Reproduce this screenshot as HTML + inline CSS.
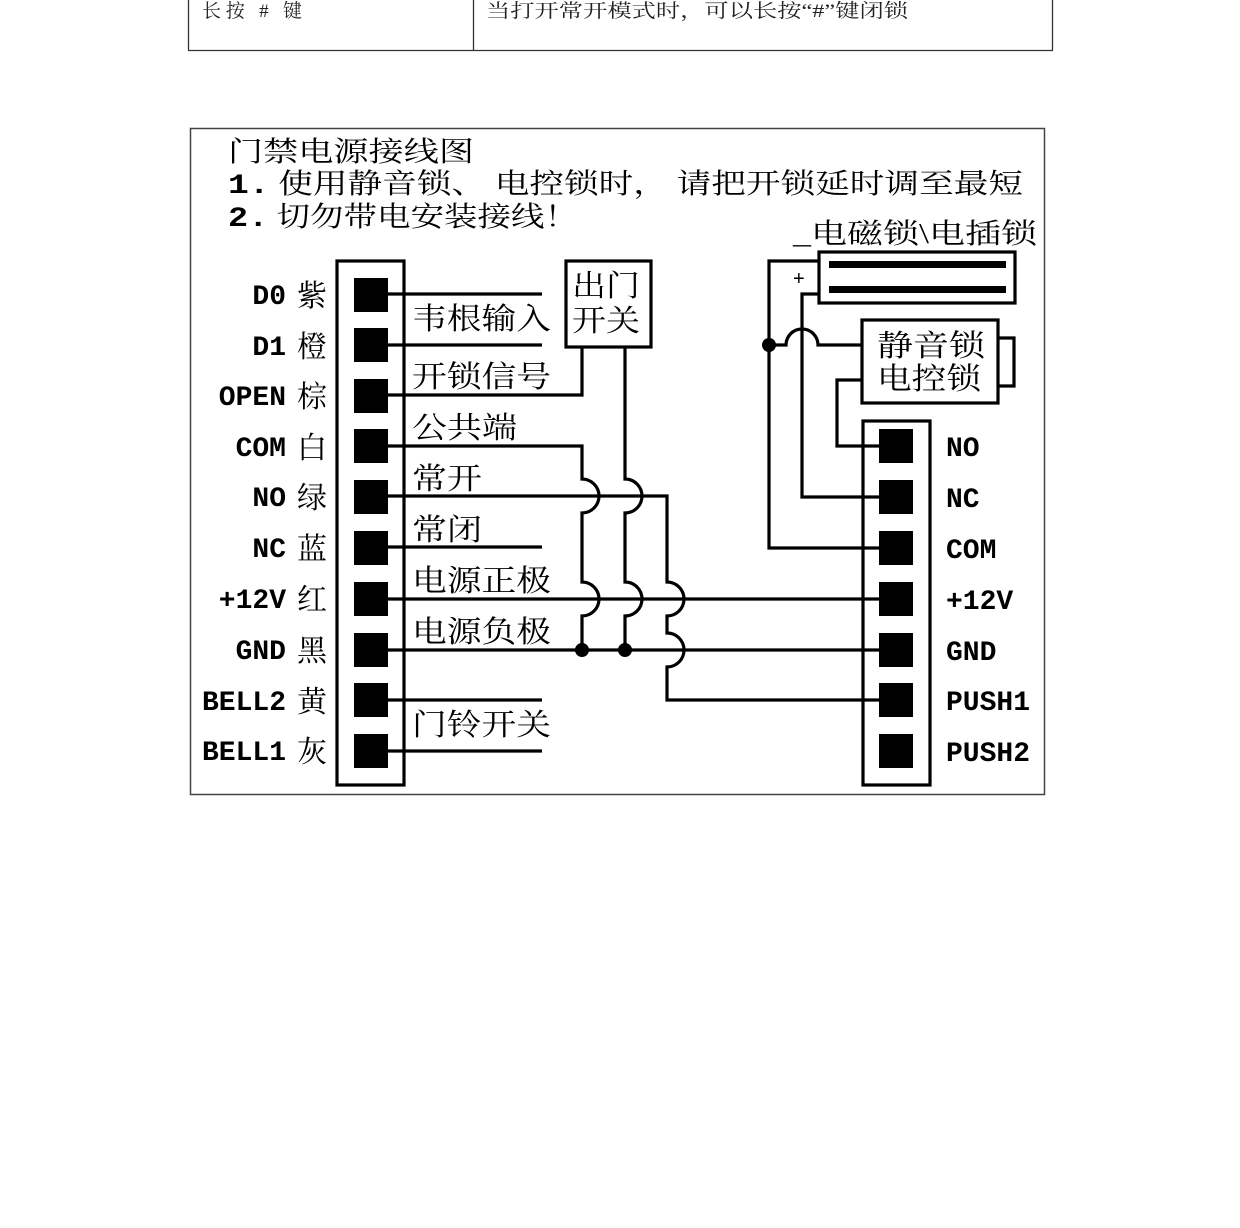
<!DOCTYPE html>
<html><head><meta charset="utf-8"><style>
html,body{margin:0;padding:0;background:#fff;}
svg{display:block;}
.cjk{font-family:"Liberation Serif","Noto Serif CJK SC","Noto Sans CJK SC",serif;}
.mono{font-family:"Liberation Mono",monospace;font-weight:bold;}
</style></head><body>
<svg width="1240" height="1228" viewBox="0 0 1240 1228" xmlns="http://www.w3.org/2000/svg">
<g stroke="#333" stroke-width="1.3" fill="none">
<line x1="188.5" y1="0" x2="188.5" y2="50"/>
<line x1="473.5" y1="0" x2="473.5" y2="50"/>
<line x1="1052.5" y1="0" x2="1052.5" y2="50"/>
<line x1="188" y1="50.5" x2="1053" y2="50.5"/>
</g>
<text x="202" y="17" font-size="19" class="cjk" fill="#222" textLength="100" lengthAdjust="spacing">长按 # 键</text>
<text x="486" y="17" font-size="19" class="cjk" fill="#222" textLength="422" lengthAdjust="spacingAndGlyphs">当打开常开模式时，可以长按“#”键闭锁</text>

<rect x="190.5" y="128.5" width="854" height="666" fill="none" stroke="#444" stroke-width="1.5"/>

<text x="228" y="161" font-size="28" class="cjk" textLength="246" lengthAdjust="spacingAndGlyphs">门禁电源接线图</text>
<text x="228" y="193" font-size="28" class="cjk" textLength="795" lengthAdjust="spacingAndGlyphs"><tspan class="mono">1.</tspan> 使用静音锁、 电控锁时， 请把开锁延时调至最短</text>
<text x="228" y="226" font-size="28" class="cjk" textLength="350" lengthAdjust="spacingAndGlyphs"><tspan class="mono">2.</tspan> 切勿带电安装接线！</text>
<text x="793" y="243" font-size="28" class="cjk" textLength="244" lengthAdjust="spacingAndGlyphs">_电磁锁\电插锁</text>

<g stroke="#000" stroke-width="3.2" fill="none">
<rect x="337" y="261" width="67" height="524"/>
<rect x="863" y="421" width="67" height="364"/>
<rect x="566" y="261" width="85" height="86"/>
<rect x="819" y="252" width="196" height="51"/>
<rect x="862" y="320" width="136" height="83"/>
<polyline points="998,338 1014,338 1014,386 998,386"/>

<line x1="388" y1="294" x2="542" y2="294"/>
<line x1="388" y1="345" x2="542" y2="345"/>
<polyline points="388,395 582,395 582,347"/>
<line x1="388" y1="547" x2="542" y2="547"/>
<line x1="388" y1="700" x2="542" y2="700"/>
<line x1="388" y1="751" x2="542" y2="751"/>
<path d="M388,446 L582,446 L582,479 A17,17 0 0 1 582,513 L582,582 A17,17 0 0 1 582,616 L582,650"/>
<path d="M625,347 L625,479 A17,17 0 0 1 625,513 L625,582 A17,17 0 0 1 625,616 L625,650"/>
<path d="M388,496 L667,496 L667,582 A17,17 0 0 1 667,616 L667,633 A17,17 0 0 1 667,667 L667,700 L880,700"/>
<line x1="388" y1="599" x2="880" y2="599"/>
<line x1="388" y1="650" x2="880" y2="650"/>

<polyline points="819,261 769,261 769,548 880,548"/>
<polyline points="819,294 802,294 802,497 880,497"/>
<path d="M769,345 L786,345 A16,16 0 0 1 818,345 L862,345"/>
<polyline points="862,380 837,380 837,446 880,446"/>
</g>

<rect x="829" y="261" width="177" height="7" fill="#000"/>
<rect x="829" y="286" width="177" height="7" fill="#000"/>
<text x="793" y="285" font-size="20" font-family="Liberation Sans,sans-serif">+</text>

<circle cx="582" cy="650" r="7" fill="#000"/>
<circle cx="625" cy="650" r="7" fill="#000"/>
<circle cx="769" cy="345" r="7" fill="#000"/>

<g fill="#000">
<rect x="354" y="278" width="34" height="34"/>
<rect x="354" y="328" width="34" height="34"/>
<rect x="354" y="379" width="34" height="34"/>
<rect x="354" y="429" width="34" height="34"/>
<rect x="354" y="480" width="34" height="34"/>
<rect x="354" y="531" width="34" height="34"/>
<rect x="354" y="582" width="34" height="34"/>
<rect x="354" y="633" width="34" height="34"/>
<rect x="354" y="683" width="34" height="34"/>
<rect x="354" y="734" width="34" height="34"/>
<rect x="879" y="429" width="34" height="34"/>
<rect x="879" y="480" width="34" height="34"/>
<rect x="879" y="531" width="34" height="34"/>
<rect x="879" y="582" width="34" height="34"/>
<rect x="879" y="633" width="34" height="34"/>
<rect x="879" y="683" width="34" height="34"/>
<rect x="879" y="734" width="34" height="34"/>
</g>

<g class="mono" font-size="28" text-anchor="end">
<text x="286" y="304">D0</text>
<text x="286" y="355">D1</text>
<text x="286" y="405">OPEN</text>
<text x="286" y="456">COM</text>
<text x="286" y="506">NO</text>
<text x="286" y="557">NC</text>
<text x="286" y="608">+12V</text>
<text x="286" y="659">GND</text>
<text x="286" y="710">BELL2</text>
<text x="286" y="760">BELL1</text>
</g>
<g class="cjk" font-size="30">
<text x="297" y="306">紫</text>
<text x="297" y="357">橙</text>
<text x="297" y="407">棕</text>
<text x="297" y="458">白</text>
<text x="297" y="508">绿</text>
<text x="297" y="559">蓝</text>
<text x="297" y="610">红</text>
<text x="297" y="661">黑</text>
<text x="297" y="712">黄</text>
<text x="297" y="762">灰</text>
</g>
<g class="mono" font-size="28">
<text x="946" y="456">NO</text>
<text x="946" y="507">NC</text>
<text x="946" y="558">COM</text>
<text x="946" y="609">+12V</text>
<text x="946" y="660">GND</text>
<text x="946" y="710">PUSH1</text>
<text x="946" y="761">PUSH2</text>
</g>

<g class="cjk" font-size="30">
<text x="412" y="329" textLength="139" lengthAdjust="spacingAndGlyphs">韦根输入</text>
<text x="412" y="387" textLength="139" lengthAdjust="spacingAndGlyphs">开锁信号</text>
<text x="412" y="438" textLength="105" lengthAdjust="spacingAndGlyphs">公共端</text>
<text x="412" y="489" textLength="70" lengthAdjust="spacingAndGlyphs">常开</text>
<text x="412" y="540" textLength="70" lengthAdjust="spacingAndGlyphs">常闭</text>
<text x="412" y="591" textLength="139" lengthAdjust="spacingAndGlyphs">电源正极</text>
<text x="412" y="642" textLength="139" lengthAdjust="spacingAndGlyphs">电源负极</text>
<text x="412" y="735" textLength="139" lengthAdjust="spacingAndGlyphs">门铃开关</text>
<text x="572" y="296" textLength="68" lengthAdjust="spacingAndGlyphs">出门</text>
<text x="572" y="331" textLength="68" lengthAdjust="spacingAndGlyphs">开关</text>
<text x="877" y="356" textLength="108" lengthAdjust="spacingAndGlyphs">静音锁</text>
<text x="877" y="389" textLength="104" lengthAdjust="spacingAndGlyphs">电控锁</text>
</g>
</svg>
</body></html>
